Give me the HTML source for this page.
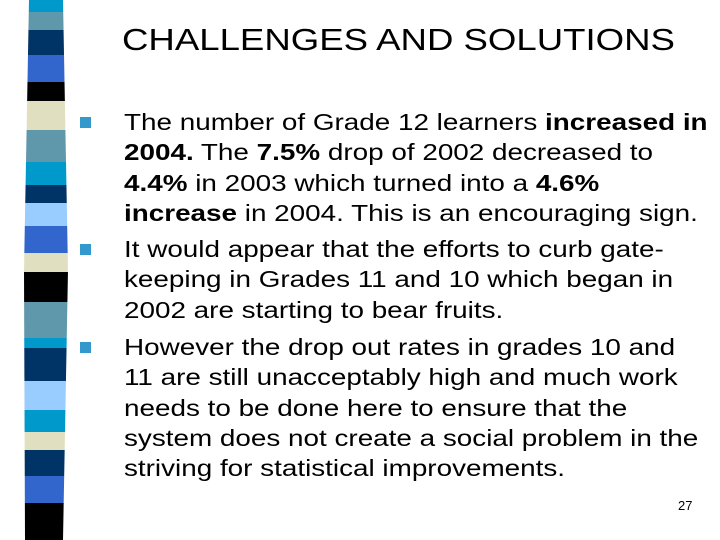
<!DOCTYPE html>
<html><head><meta charset="utf-8"><style>
body{margin:0;width:720px;height:540px;background:#fff;overflow:hidden;position:relative;font-family:"Liberation Sans",Arial,sans-serif;}
#strip{position:absolute;left:0;top:0}
h1{position:absolute;left:122px;top:22px;margin:0;font-weight:normal;font-size:31px;color:#000;white-space:nowrap;transform:scaleX(1.18);transform-origin:0 0;}
.p{position:absolute;left:124px;font-size:23.5px;line-height:30.3px;color:#000;margin:0;white-space:nowrap;transform:scaleX(1.185);transform-origin:0 0;}
.b{position:absolute;left:80px;width:11px;height:11px;background:#3399cc;}
.num{position:absolute;left:678px;top:498px;font-size:13px;}
</style></head><body>
<svg id="strip" width="80" height="540">
<g id="g"></g>
</svg>
<script>
var stops=[0,12,30,55,82,101,130,162,185,203,226,253,272,302,338,348,381,410,432,450,476,503,540];
var cols=["#0099cc","#5f97ab","#003366","#3366cc","#000000","#e0e0c0","#5f97ab","#0099cc","#003366","#99ccff","#3366cc","#e0e0c0","#000000","#5f97ab","#0099cc","#003366","#99ccff","#0099cc","#e0e0c0","#003366","#3366cc","#000000"];
var g=document.getElementById('g');
function lx(y){return y<270?29-5*(y/270):24+ (y-270)/270*1;}
function rx(y){return y<270?63+5*(y/270):68-(y-270)/270*5;}
for(var i=0;i<cols.length;i++){var a=stops[i],b=stops[i+1];
var p=document.createElementNS('http://www.w3.org/2000/svg','polygon');
p.setAttribute('points',lx(a)+','+a+' '+rx(a)+','+a+' '+rx(b)+','+b+' '+lx(b)+','+b);
p.setAttribute('fill',cols[i]);


g.appendChild(p);}
</script>
<h1>CHALLENGES AND SOLUTIONS</h1>
<div class="b" style="top:117px"></div>
<p class="p" style="top:107px">The number of Grade 12 learners <b>increased in</b><br><b>2004.</b> The <b>7.5%</b> drop of 2002 decreased to<br><b>4.4%</b> in 2003 which turned into a <b>4.6%</b><br><b>increase</b> in 2004. This is an encouraging sign.</p>
<div class="b" style="top:244px"></div>
<p class="p" style="top:234px">It would appear that the efforts to curb gate-<br>keeping in Grades 11 and 10 which began in<br>2002 are starting to bear fruits.</p>
<div class="b" style="top:342px"></div>
<p class="p" style="top:332px">However the drop out rates in grades 10 and<br>11 are still unacceptably high and much work<br>needs to be done here to ensure that the<br>system does not create a social problem in the<br>striving for statistical improvements.</p>
<div class="num">27</div>
</body></html>
